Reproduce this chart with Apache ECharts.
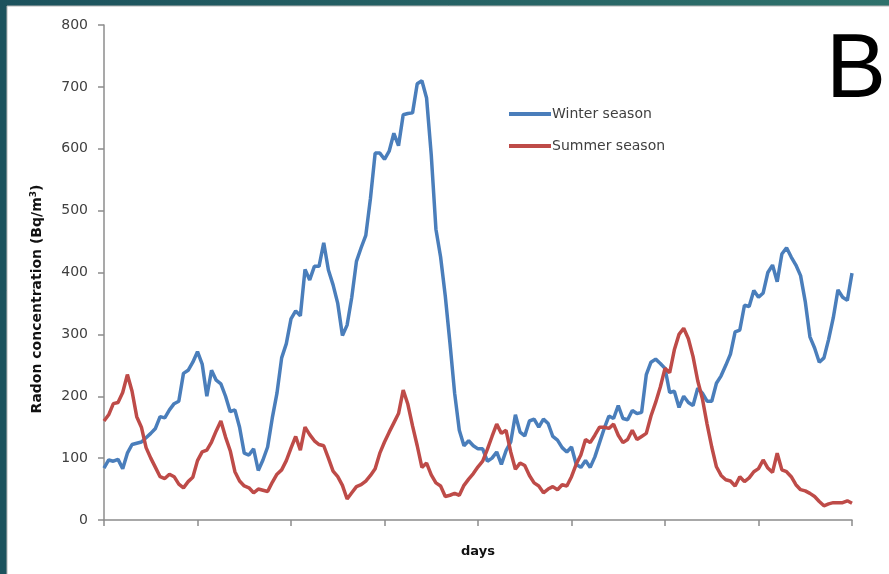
<!DOCTYPE html>
<html>
<head>
<meta charset="utf-8">
<script src="https://cdn.jsdelivr.net/npm/echarts@6/dist/echarts.min.js"></script>
<style>
  html, body { margin: 0; padding: 0; }
  #chart { width: 889px; height: 574px; }
</style>
</head>
<body>
<div id="chart"></div>
<script>
// Daily radon concentration (Bq/m3), winter vs summer campaign
const winterSeason = [
  84, 97, 95, 98, 83, 108, 122, 124, 126, 133,
  140, 148, 167, 165, 178, 188, 192, 237, 242, 255,
  272, 252, 200, 242, 226, 220, 200, 175, 178, 150,
  108, 105, 115, 80, 97, 118, 165, 205, 262, 285,
  325, 338, 330, 405, 388, 410, 410, 448, 404, 380,
  350, 298, 315, 360, 418, 440, 460, 520, 593, 593,
  583, 596, 625, 605, 655, 657, 658, 705, 710, 682,
  590, 470, 425, 362, 286, 205, 145, 120, 128, 120,
  115, 115, 95, 100, 110, 90, 112, 126, 170, 142,
  136, 160, 163, 150, 163, 156, 135, 129, 117, 110,
  118, 90, 85, 96, 85, 102, 125, 148, 168, 164,
  185, 164, 162, 177, 172, 174, 235, 255, 260, 253,
  245, 206, 208, 182, 200, 190, 185, 213, 205, 192,
  192, 221, 233, 250, 268, 304, 307, 347, 345, 371,
  360, 367, 400, 412, 385, 430, 440, 425, 412, 395,
  353, 296, 278, 255, 262, 292, 327, 372, 360, 355,
  399
];
const summerSeason = [
  160, 170, 188, 190, 206, 235, 208, 167, 150, 117,
  100, 85, 70, 67, 74, 70, 58, 52, 62, 69,
  96, 110, 113, 126, 144, 160, 134, 112, 78, 63,
  55, 52, 44, 50, 48, 46, 61, 74, 81, 96,
  116, 135, 113, 150, 138, 128, 122, 120, 100, 79,
  70, 56, 34, 44, 54, 57, 63, 72, 83, 108,
  126, 142, 157, 172, 210, 187, 152, 120, 85, 92,
  73, 60, 55, 38, 40, 43, 40, 56, 66, 75,
  86, 95, 114, 135, 155, 140, 145, 110, 82, 92,
  88, 72, 60, 55, 44, 50, 54, 49, 57, 55,
  70, 90, 105, 130, 125, 137, 150, 150, 148, 155,
  137, 125, 130, 145, 130, 135, 140, 168, 190, 215,
  245, 238, 275, 300, 310, 293, 264, 225, 196, 155,
  118, 86, 72, 65, 63, 55, 70, 62, 68, 78,
  83, 97, 84, 77, 108, 81, 78, 70, 57, 49,
  47, 43, 38, 30, 23, 26, 28, 28, 28, 31,
  27
];
const days = winterSeason.map((_, i) => i + 1);
const yTicks = { min: 0, max: 800, step: 100 };

const chart = echarts.init(document.getElementById('chart'), null, { renderer: 'canvas' });

const axisGrey = '#8c8c8c';
const textGrey = '#404040';

chart.setOption({
  animation: false,
  backgroundColor: {
    type: 'linear', x: 0, y: 0, x2: 1, y2: 0,
    colorStops: [{ offset: 0, color: '#1c525d' }, { offset: 1, color: '#2f726c' }]
  },
  graphic: [
    {
      type: 'rect', z: -10, silent: true,
      shape: { x: 7, y: 6, width: 900, height: 600 },
      style: { fill: '#ffffff', stroke: '#b5b5b5', lineWidth: 1 }
    },
    {
      type: 'text', z: 10,
      x: 37, y: 299, rotation: Math.PI / 2,
      style: {
        text: '{t|Radon concentration (Bq/m}{s|3}{t|)}',
        align: 'center', verticalAlign: 'middle',
        rich: {
          t: { fontFamily: 'DejaVu Sans', fontWeight: 'bold', fontSize: 14, fill: '#111' },
          s: { fontFamily: 'DejaVu Sans', fontWeight: 'bold', fontSize: 9, fill: '#111', verticalAlign: 'top', padding: [0, 0, 7, 0] }
        }
      }
    },
    {
      type: 'text', z: 10, left: 826, top: 27,
      style: { text: 'B', fontFamily: 'Liberation Sans', fontSize: 90, fill: '#000' }
    }
  ],
  grid: { left: 104, right: 37, top: 25, bottom: 54, containLabel: false },
  legend: {
    orient: 'vertical', left: 504, top: 102,
    itemWidth: 42, itemHeight: 4, itemGap: 18,
    icon: 'rect',
    textStyle: { fontFamily: 'DejaVu Sans', fontSize: 14, color: textGrey, padding: [0, 0, 0, -4] },
    data: ['Winter season', 'Summer season']
  },
  xAxis: {
    type: 'category',
    data: days,
    boundaryGap: false,
    name: 'days',
    nameLocation: 'middle',
    nameGap: 25,
    nameTextStyle: { fontFamily: 'DejaVu Sans', fontWeight: 'bold', fontSize: 13, color: '#111' },
    axisLine: { lineStyle: { color: axisGrey, width: 1.5 } },
    axisTick: { show: true, interval: 19, length: 6, lineStyle: { color: axisGrey, width: 1.5 } },
    axisLabel: { show: false },
    splitLine: { show: false }
  },
  yAxis: {
    type: 'value',
    min: yTicks.min, max: yTicks.max, interval: yTicks.step,
    axisLine: { show: true, lineStyle: { color: axisGrey, width: 1.5 } },
    axisTick: { show: true, length: 6, lineStyle: { color: axisGrey, width: 1.5 } },
    axisLabel: { margin: 16, fontFamily: 'DejaVu Sans', fontSize: 14, color: textGrey },
    splitLine: { show: false }
  },
  series: [
    {
      name: 'Winter season', type: 'line', data: winterSeason,
      showSymbol: false, symbol: 'none',
      lineStyle: { color: '#4a7ebb', width: 3.5 }, itemStyle: { color: '#4a7ebb' }
    },
    {
      name: 'Summer season', type: 'line', data: summerSeason,
      showSymbol: false, symbol: 'none',
      lineStyle: { color: '#be4b48', width: 3.5 }, itemStyle: { color: '#be4b48' }
    }
  ]
});
</script>
</body>
</html>
